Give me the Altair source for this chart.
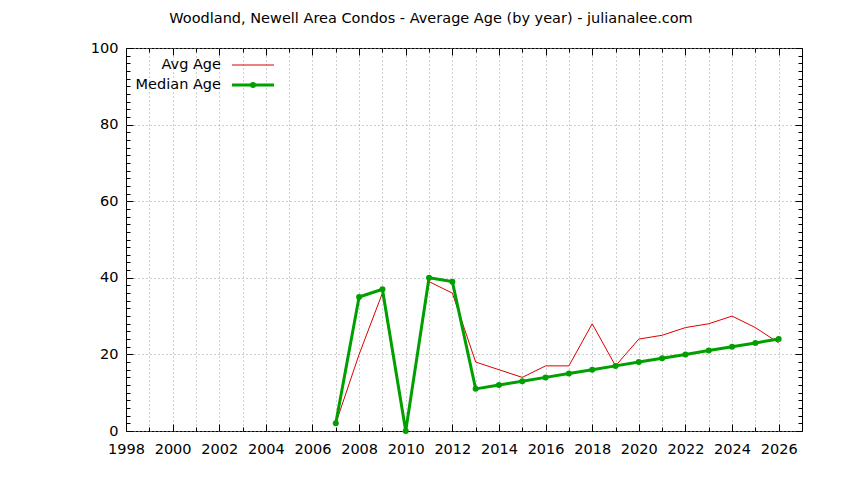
import altair as alt
import pandas as pd

years = list(range(2007, 2027))
avg_age = [2, 20, 36, 0, 39, 36, 18, 16, 14, 17, 17, 28, 17, 24, 25, 27, 28, 30, 27, 23]
median_age = [2, 35, 37, 0, 40, 39, 11, 12, 13, 14, 15, 16, 17, 18, 19, 20, 21, 22, 23, 24]

x_major = list(range(1998, 2027, 2))
x_minor = list(range(1999, 2026, 2))
x_grid = list(range(1999, 2027))
y_major = [0, 20, 40, 60, 80, 100]
y_minor = [v for v in range(0, 101, 2) if v % 20 != 0]

title_text = "Woodland, Newell Area Condos - Average Age (by year) - julianalee.com"
legend_labels = ["Avg Age", "Median Age"]

FONT = "DejaVu Sans"
FS = 14.5
RED = "#dd0000"
GREEN = "#00a000"

df = pd.DataFrame({"year": years, "avg": avg_age, "median": median_age})
base = alt.Chart(df)

xs = alt.Scale(domain=[1998, 2027], nice=False, zero=False)
ys = alt.Scale(domain=[0, 100], nice=False, zero=False)


def axis_layer(channel, orient, values, size=0, labels=False, grid=False, pad=0):
    kw = dict(orient=orient, values=values, domain=False, labels=labels,
              title=None, format="d", labelFlush=False, labelOverlap=False)
    if grid:
        kw.update(ticks=False, grid=True, gridColor="#a0a0a0", gridDash=[1, 3], gridWidth=1)
    else:
        kw.update(ticks=True, tickSize=size, offset=-size, tickColor="black",
                  tickWidth=1, grid=False)
    if labels:
        kw.update(labelFont=FONT, labelFontSize=FS, labelColor="black", labelPadding=pad)
    ax = alt.Axis(**kw)
    if channel == "x":
        enc = dict(x=alt.X("year:Q", scale=xs, axis=ax),
                   y=alt.Y("avg:Q", scale=ys, axis=None))
    else:
        enc = dict(x=alt.X("year:Q", scale=xs, axis=None),
                   y=alt.Y("avg:Q", scale=ys, axis=ax))
    return base.mark_point(opacity=0).encode(**enc)


grid_x = axis_layer("x", "bottom", x_grid, grid=True)
grid_y = axis_layer("y", "left", y_major, grid=True)

bottom_major = axis_layer("x", "bottom", x_major, 7, labels=True, pad=11)
bottom_minor = axis_layer("x", "bottom", x_minor, 4)
top_major = axis_layer("x", "top", x_major, 7)
top_minor = axis_layer("x", "top", x_minor, 4)
left_major = axis_layer("y", "left", y_major, 7, labels=True, pad=8)
left_minor = axis_layer("y", "left", y_minor, 4)
right_major = axis_layer("y", "right", y_major, 7)
right_minor = axis_layer("y", "right", y_minor, 4)

avg_line = base.mark_line(color=RED, strokeWidth=1).encode(
    x=alt.X("year:Q", scale=xs, axis=None),
    y=alt.Y("avg:Q", scale=ys, axis=None),
)
median_line = base.mark_line(color=GREEN, strokeWidth=3).encode(
    x=alt.X("year:Q", scale=xs, axis=None),
    y=alt.Y("median:Q", scale=ys, axis=None),
)
median_pts = base.mark_point(color=GREEN, filled=True, size=36, opacity=1).encode(
    x=alt.X("year:Q", scale=xs, axis=None),
    y=alt.Y("median:Q", scale=ys, axis=None),
)

title = alt.Chart(pd.DataFrame({"t": [title_text]})).mark_text(
    font=FONT, fontSize=FS, color="black", align="center", baseline="middle"
).encode(text="t:N", x=alt.value(305), y=alt.value(-29))

leg_avg_txt = alt.Chart(pd.DataFrame({"l": [legend_labels[0]]})).mark_text(
    font=FONT, fontSize=FS, color="black", align="right", baseline="middle"
).encode(text="l:N", x=alt.value(95), y=alt.value(17))
leg_med_txt = alt.Chart(pd.DataFrame({"l": [legend_labels[1]]})).mark_text(
    font=FONT, fontSize=FS, color="black", align="right", baseline="middle"
).encode(text="l:N", x=alt.value(95), y=alt.value(37))
leg_avg_line = alt.Chart(pd.DataFrame({"l": [legend_labels[0]]})).mark_rule(
    color=RED, strokeWidth=1
).encode(x=alt.value(106), x2=alt.value(148), y=alt.value(17))
leg_med_line = alt.Chart(pd.DataFrame({"l": [legend_labels[1]]})).mark_rule(
    color=GREEN, strokeWidth=3
).encode(x=alt.value(106), x2=alt.value(148), y=alt.value(37))
leg_med_pt = alt.Chart(pd.DataFrame({"l": [legend_labels[1]]})).mark_point(
    color=GREEN, filled=True, size=36, opacity=1
).encode(x=alt.value(127), y=alt.value(37))

chart = alt.layer(
    grid_x, grid_y,
    avg_line, median_line, median_pts,
    bottom_major, bottom_minor, top_major, top_minor,
    left_major, left_minor, right_major, right_minor,
    title, leg_avg_txt, leg_med_txt, leg_avg_line, leg_med_line, leg_med_pt,
).resolve_axis(x="independent", y="independent").properties(
    width=676, height=383,
    autosize=alt.AutoSizeParams(type="none"),
    padding={"left": 118, "top": 40, "right": 34, "bottom": 41},
    background="white",
).configure_view(stroke="black", strokeWidth=1)

chart.save("out.html", embed_options={"renderer": "svg", "actions": False})
